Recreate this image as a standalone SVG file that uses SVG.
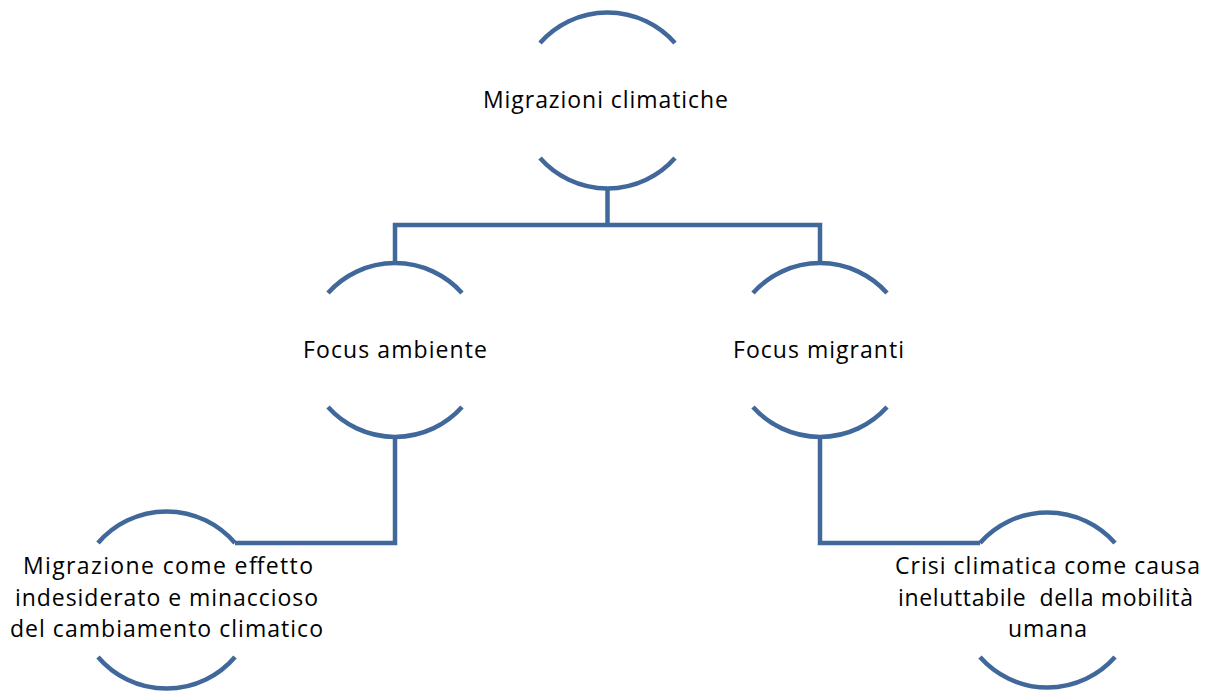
<svg xmlns="http://www.w3.org/2000/svg" width="1211" height="691" viewBox="0 0 1211 691">
<style>
.arc{fill:none;stroke:#41689b;stroke-width:4.5}
.conn{fill:none;stroke:#41689b;stroke-width:4.5;stroke-linejoin:miter}
text{font-family:"Open Sans","Liberation Sans",sans-serif;font-size:23px;fill:#000;text-anchor:middle}
</style>
<rect width="1211" height="691" fill="#fff"/>
<g id="connectors">
<path class="conn" d="M607.5,188 V225"/>
<path class="conn" d="M395,263 V225 H820 V263"/>
<path class="conn" d="M395,438 V543 H235"/>
<path class="conn" d="M820,438 V543 H980"/>
</g>
<g id="node-root">
<path class="arc" d="M540,43 A90,90 0 0 1 675,43"/>
<path class="arc" d="M540,158 A90,90 0 0 0 675,158"/>
<text x="605.5" y="108" textLength="245" lengthAdjust="spacing">Migrazioni climatiche</text>
</g>
<g id="node-ambiente">
<path class="arc" d="M328,293 A90,90 0 0 1 462,293"/>
<path class="arc" d="M328,407 A90,90 0 0 0 462,407"/>
<text x="395" y="358" textLength="184" lengthAdjust="spacing">Focus ambiente</text>
</g>
<g id="node-migranti">
<path class="arc" d="M753,293 A90,90 0 0 1 887,293"/>
<path class="arc" d="M753,407 A90,90 0 0 0 887,407"/>
<text x="818.5" y="358" textLength="171" lengthAdjust="spacing">Focus migranti</text>
</g>
<g id="node-effetto">
<path class="arc" d="M98,543 A90,90 0 0 1 235,543"/>
<path class="arc" d="M98,657 A90,90 0 0 0 235,657"/>
<text x="168" y="574" textLength="290" lengthAdjust="spacing">Migrazione come effetto</text>
<text x="166.5" y="606" textLength="303" lengthAdjust="spacing">indesiderato e minaccioso</text>
<text x="166.5" y="637" textLength="313" lengthAdjust="spacing">del cambiamento climatico</text>
</g>
<g id="node-causa">
<path class="arc" d="M980,543 A90,90 0 0 1 1115,543"/>
<path class="arc" d="M980,657 A90,90 0 0 0 1115,657"/>
<text x="1047.5" y="574" textLength="305" lengthAdjust="spacing">Crisi climatica come causa</text>
<text x="1045.5" y="606" textLength="295" lengthAdjust="spacing" style="white-space:pre">ineluttabile  della mobilità</text>
<text x="1047.5" y="637" textLength="79" lengthAdjust="spacing">umana</text>
</g>
</svg>
